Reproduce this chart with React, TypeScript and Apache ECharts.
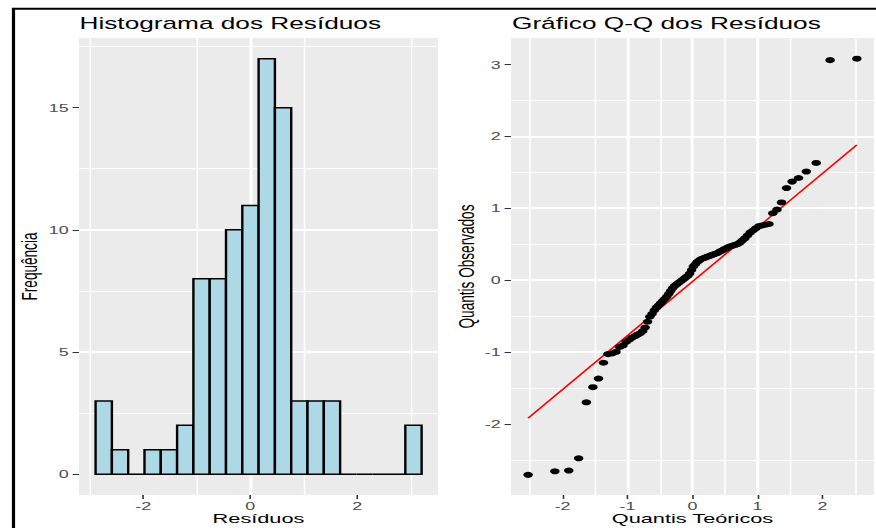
import React, { useEffect, useRef } from "react";
import * as echarts from "echarts";

// ---------- data ----------
const histCounts = [3, 1, 0, 1, 1, 2, 8, 8, 10, 11, 17, 15, 3, 3, 3, 0, 0, 0, 0, 2];
const histBinStart = -2.89;
const histBinWidth = 0.3047;
const histXTicks = [-2, 0, 2];
const histYTicks = [0, 5, 10, 15];

const theoreticalQuantiles = [
  -2.531, -2.119, -1.905, -1.753, -1.634, -1.534, -1.448, -1.371, -1.301, -1.237,
  -1.178, -1.123, -1.071, -1.022, -0.975, -0.931, -0.887, -0.846, -0.805, -0.766,
  -0.729, -0.692, -0.657, -0.622, -0.587, -0.554, -0.521, -0.489, -0.457, -0.426,
  -0.395, -0.364, -0.334, -0.304, -0.274, -0.244, -0.215, -0.186, -0.157, -0.128,
  -0.1, -0.071, -0.043, -0.014, 0.014, 0.043, 0.071, 0.1, 0.128, 0.157,
  0.186, 0.215, 0.244, 0.274, 0.304, 0.334, 0.364, 0.395, 0.426, 0.457,
  0.489, 0.521, 0.554, 0.587, 0.622, 0.657, 0.692, 0.729, 0.766, 0.805,
  0.846, 0.887, 0.931, 0.975, 1.022, 1.071, 1.123, 1.178, 1.237, 1.301,
  1.371, 1.448, 1.534, 1.634, 1.753, 1.905, 2.119, 2.531,
];
const sampleQuantiles = [
  -2.71, -2.66, -2.65, -2.48, -1.7, -1.49, -1.37, -1.15, -1.03, -1.02,
  -1.0, -0.93, -0.91, -0.86, -0.83, -0.8, -0.78, -0.76, -0.74, -0.71,
  -0.66, -0.58, -0.51, -0.47, -0.42, -0.38, -0.35, -0.32, -0.29, -0.26,
  -0.23, -0.19, -0.15, -0.11, -0.08, -0.06, -0.04, -0.02, 0.0, 0.02,
  0.04, 0.06, 0.09, 0.14, 0.19, 0.22, 0.25, 0.27, 0.29, 0.3,
  0.31, 0.32, 0.33, 0.34, 0.35, 0.36, 0.37, 0.38, 0.4, 0.41,
  0.43, 0.44, 0.46, 0.47, 0.48, 0.49, 0.5, 0.52, 0.55, 0.58,
  0.62, 0.66, 0.69, 0.72, 0.75, 0.76, 0.77, 0.78, 0.93, 0.98,
  1.08, 1.28, 1.37, 1.42, 1.51, 1.63, 3.06, 3.08,
];
const qqLineX = [-2.531, 2.531];
const qqLineY = [-1.92, 1.88];
const qqXTicks = [-2, -1, 0, 1, 2];
const qqYTicks = [-2, -1, 0, 1, 2, 3];

// ---------- layout ----------
const OUT_W = 876;
const IN_W = 548;
const S = OUT_W / IN_W;
const px = (v: number) => v / S;
const FONT = "'Liberation Sans', Arial, Helvetica, sans-serif";

function valueAxis(min: number, max: number, splitNumber: number, ticks: number[], gridIndex: number, margin: number) {
  return {
    type: "value",
    gridIndex,
    min,
    max,
    splitNumber,
    axisLine: { show: false, onZero: false },
    axisTick: { show: true, length: 4, lineStyle: { color: "#333333", width: 1 }, customValues: ticks },
    axisLabel: { customValues: ticks, color: "#4D4D4D", fontSize: 11.2, fontFamily: FONT, margin },
    splitLine: { show: true, showMinLine: false, showMaxLine: false, lineStyle: { color: "#FFFFFF", width: 1.9 } },
    minorTick: { show: false, splitNumber: 2 },
    minorSplitLine: { show: true, lineStyle: { color: "#FFFFFF", width: 0.95 } },
  };
}

export default function App() {
  const ref = useRef<HTMLDivElement>(null);
  useEffect(() => {
    if (!ref.current) return;
    const chart = echarts.init(ref.current, undefined, { renderer: "svg" });

    const histData = histCounts.map((c, i) => [
      histBinStart + i * histBinWidth,
      histBinStart + (i + 1) * histBinWidth,
      c,
    ]);
    const qqData = theoreticalQuantiles.map((x, i) => [x, sampleQuantiles[i]]);
    const lineData = qqLineX.map((x, i) => [x, qqLineY[i]]);

    const leftGrid = { left: px(79), top: 38, width: px(438 - 79), height: 457 };
    const rightGrid = { left: px(511), top: 38, width: px(874 - 511), height: 457 };

    const option: any = {
      animation: false,
      backgroundColor: "#FFFFFF",
      grid: [
        { ...leftGrid, show: true, backgroundColor: "#EBEBEB", borderWidth: 0, containLabel: false },
        { ...rightGrid, show: true, backgroundColor: "#EBEBEB", borderWidth: 0, containLabel: false },
      ],
      xAxis: [
        valueAxis(-3.2, 3.51, 3, histXTicks, 0, 5),
        valueAxis(-2.795, 2.795, 5, qqXTicks, 1, 5),
      ],
      yAxis: [
        valueAxis(-0.85, 17.85, 4, histYTicks, 0, 6.5),
        valueAxis(-2.99, 3.368, 6, qqYTicks, 1, 6.5),
      ],
      series: [
        {
          type: "custom",
          xAxisIndex: 0,
          yAxisIndex: 0,
          data: histData,
          encode: { x: [0, 1], y: 2 },
          renderItem: (params: any, api: any) => {
            const x0 = api.value(0);
            const x1 = api.value(1);
            const c = api.value(2);
            const p0 = api.coord([x0, c]);
            const p1 = api.coord([x1, 0]);
            if (c === 0) {
              return {
                type: "line",
                shape: { x1: p0[0], y1: p1[1], x2: p1[0], y2: p1[1] },
                style: { stroke: "#000000", lineWidth: 1.5 },
              };
            }
            return {
              type: "rect",
              shape: { x: p0[0], y: p0[1], width: p1[0] - p0[0], height: p1[1] - p0[1] },
              style: { fill: "#ADD8E6", stroke: "#000000", lineWidth: 1.5 },
            };
          },
        },
        {
          type: "line",
          xAxisIndex: 1,
          yAxisIndex: 1,
          data: lineData,
          symbol: "none",
          lineStyle: { color: "#FF0000", width: 1.3 },
          z: 2,
        },
        {
          type: "scatter",
          xAxisIndex: 1,
          yAxisIndex: 1,
          data: qqData,
          symbol: "circle",
          symbolSize: 6,
          itemStyle: { color: "#000000", opacity: 1 },
          z: 3,
        },
      ],
      graphic: [
        {
          type: "rect",
          shape: { x: px(13.5), y: 8.8, width: 2000, height: 2000 },
          style: { fill: "none", stroke: "#000000", lineWidth: 2 },
          silent: true,
        },
        {
          type: "text",
          x: px(79.5),
          y: 23.5,
          style: { text: "Histograma dos Resíduos", font: `16.4px ${FONT}`, fill: "#000000", textAlign: "left", textVerticalAlign: "middle" },
        },
        {
          type: "text",
          x: px(512),
          y: 23.5,
          style: { text: "Gráfico Q-Q dos Resíduos", font: `16.4px ${FONT}`, fill: "#000000", textAlign: "left", textVerticalAlign: "middle" },
        },
        {
          type: "text",
          x: px(258.5),
          y: 518.5,
          style: { text: "Resíduos", font: `13.6px ${FONT}`, fill: "#000000", textAlign: "center", textVerticalAlign: "middle" },
        },
        {
          type: "text",
          x: px(692.5),
          y: 518.5,
          style: { text: "Quantis Teóricos", font: `13.6px ${FONT}`, fill: "#000000", textAlign: "center", textVerticalAlign: "middle" },
        },
        {
          type: "text",
          x: px(30),
          y: 266.5,
          rotation: Math.PI / 2,
          style: { text: "Frequência", font: `13.6px ${FONT}`, fill: "#000000", textAlign: "center", textVerticalAlign: "middle" },
        },
        {
          type: "text",
          x: px(467),
          y: 266.5,
          rotation: Math.PI / 2,
          style: { text: "Quantis Observados", font: `13.6px ${FONT}`, fill: "#000000", textAlign: "center", textVerticalAlign: "middle" },
        },
      ],
    };

    chart.setOption(option);
    return () => chart.dispose();
  }, []);

  return (
    <div style={{ position: "absolute", left: 0, top: 0, width: OUT_W, height: 528, overflow: "hidden", background: "#FFFFFF" }}>
      <div
        ref={ref}
        style={{ width: IN_W, height: 528, transform: `scaleX(${S})`, transformOrigin: "0 0" }}
      />
    </div>
  );
}
